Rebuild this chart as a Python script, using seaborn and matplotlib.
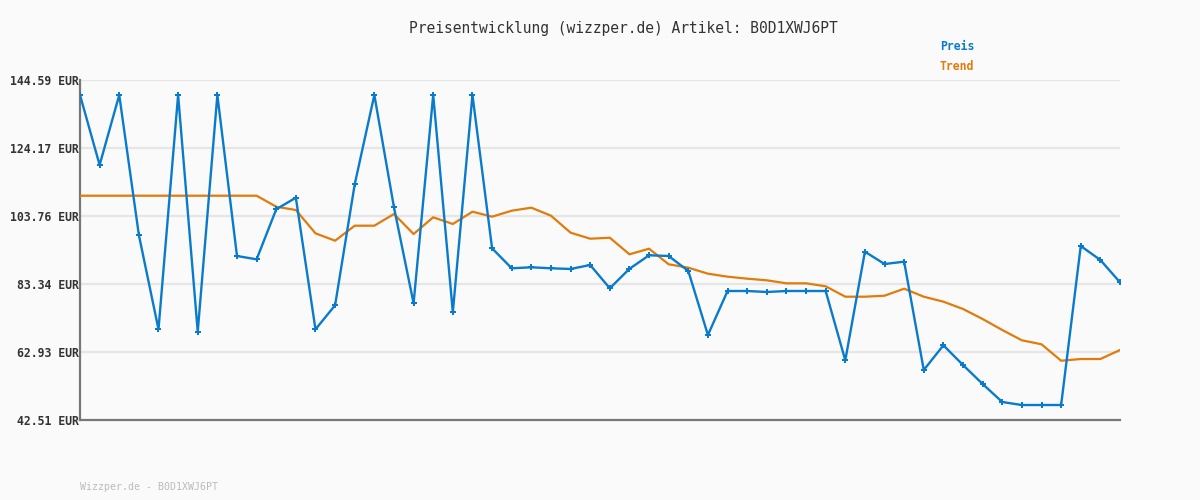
import matplotlib
matplotlib.use("Agg")
import matplotlib.pyplot as plt
import seaborn as sns
import pandas as pd
import numpy as np

title = "Preisentwicklung (wizzper.de) Artikel: B0D1XWJ6PT"
footer = "Wizzper.de - B0D1XWJ6PT"
y_ticks = [42.51, 62.93, 83.34, 103.76, 124.17, 144.59]

preis = [140.09, 119.07, 140.09, 98.05, 69.73, 140.09, 69.01, 140.09, 91.75, 90.75,
         105.77, 109.26, 69.73, 76.95, 113.28, 140.09, 106.37, 77.55, 140.09, 74.85,
         140.09, 94.06, 88.06, 88.36, 88.06, 87.85, 89.05, 82.05, 87.90, 91.96,
         91.75, 87.25, 68.03, 81.24, 81.24, 80.94, 81.24, 81.24, 81.24, 60.43,
         93.04, 89.35, 90.04, 57.52, 64.94, 59.02, 53.32, 47.91, 47.01, 47.01,
         47.01, 94.75, 90.55, 83.85]
trend = [109.85, 109.85, 109.85, 109.85, 109.85, 109.85, 109.85, 109.85, 109.85, 109.85,
         106.55, 105.56, 98.56, 96.34, 100.85, 100.85, 104.36, 98.35, 103.37, 101.36,
         105.05, 103.55, 105.35, 106.25, 103.85, 98.75, 96.94, 97.24, 92.26, 93.94,
         89.26, 88.24, 86.44, 85.54, 84.94, 84.45, 83.55, 83.55, 82.65, 79.53,
         79.53, 79.83, 81.93, 79.53, 78.03, 75.84, 72.83, 69.53, 66.44, 65.24,
         60.31, 60.82, 60.82, 63.53]

df = pd.DataFrame({"i": np.arange(len(preis)), "Preis": preis, "Trend": trend})

sns.set_theme(style="white")
plt.rcParams["font.family"] = ["DejaVu Sans Mono", "DejaVu Sans"]

bg = "#fafafa"
blue = "#0a7bcc"
orange = "#e07b0c"

fig = plt.figure(figsize=(12, 5), dpi=100, facecolor=bg)
ax = fig.add_axes([80 / 1200, 80 / 500, 1040 / 1200, 340 / 500])
ax.set_facecolor(bg)

for t in y_ticks[1:]:
    ax.axhline(t, color="#e6e6e6", lw=1.6, zorder=0)

sns.lineplot(data=df, x="i", y="Trend", ax=ax, color=orange, lw=1.6, zorder=3)
sns.lineplot(data=df, x="i", y="Preis", ax=ax, color=blue, lw=1.7, zorder=4,
             marker="P", markersize=4.5, markeredgewidth=0, markerfacecolor=blue)

ax.set_xlim(0, len(preis) - 1)
ax.set_ylim(y_ticks[0], y_ticks[-1])
ax.set_yticks(y_ticks)
ax.set_yticklabels([f"{v:.2f} EUR" for v in y_ticks], fontsize=8.3,
                   fontweight="bold", color="#333333")
ax.set_xticks([])
ax.set_xlabel("")
ax.set_ylabel("")
ax.tick_params(axis="y", length=0, pad=1)
ax.grid(False)

for s in ["top", "right"]:
    ax.spines[s].set_visible(False)
for s in ["left", "bottom"]:
    ax.spines[s].set_color("#777777")
    ax.spines[s].set_linewidth(1.6)

fig.text(623 / 1200, 1 - 28 / 500, title, ha="center", va="center",
         fontsize=10.5, color="#333333")
fig.text(940 / 1200, 1 - 47 / 500, "Preis", ha="left", va="center",
         fontsize=8.3, fontweight="bold", color=blue)
fig.text(940 / 1200, 1 - 67 / 500, "Trend", ha="left", va="center",
         fontsize=8.3, fontweight="bold", color=orange)
fig.text(80 / 1200, 1 - 487 / 500, footer, ha="left", va="center",
         fontsize=7.1, color="#bbbbbb")

fig.savefig("out.png", dpi=100, facecolor=bg)
